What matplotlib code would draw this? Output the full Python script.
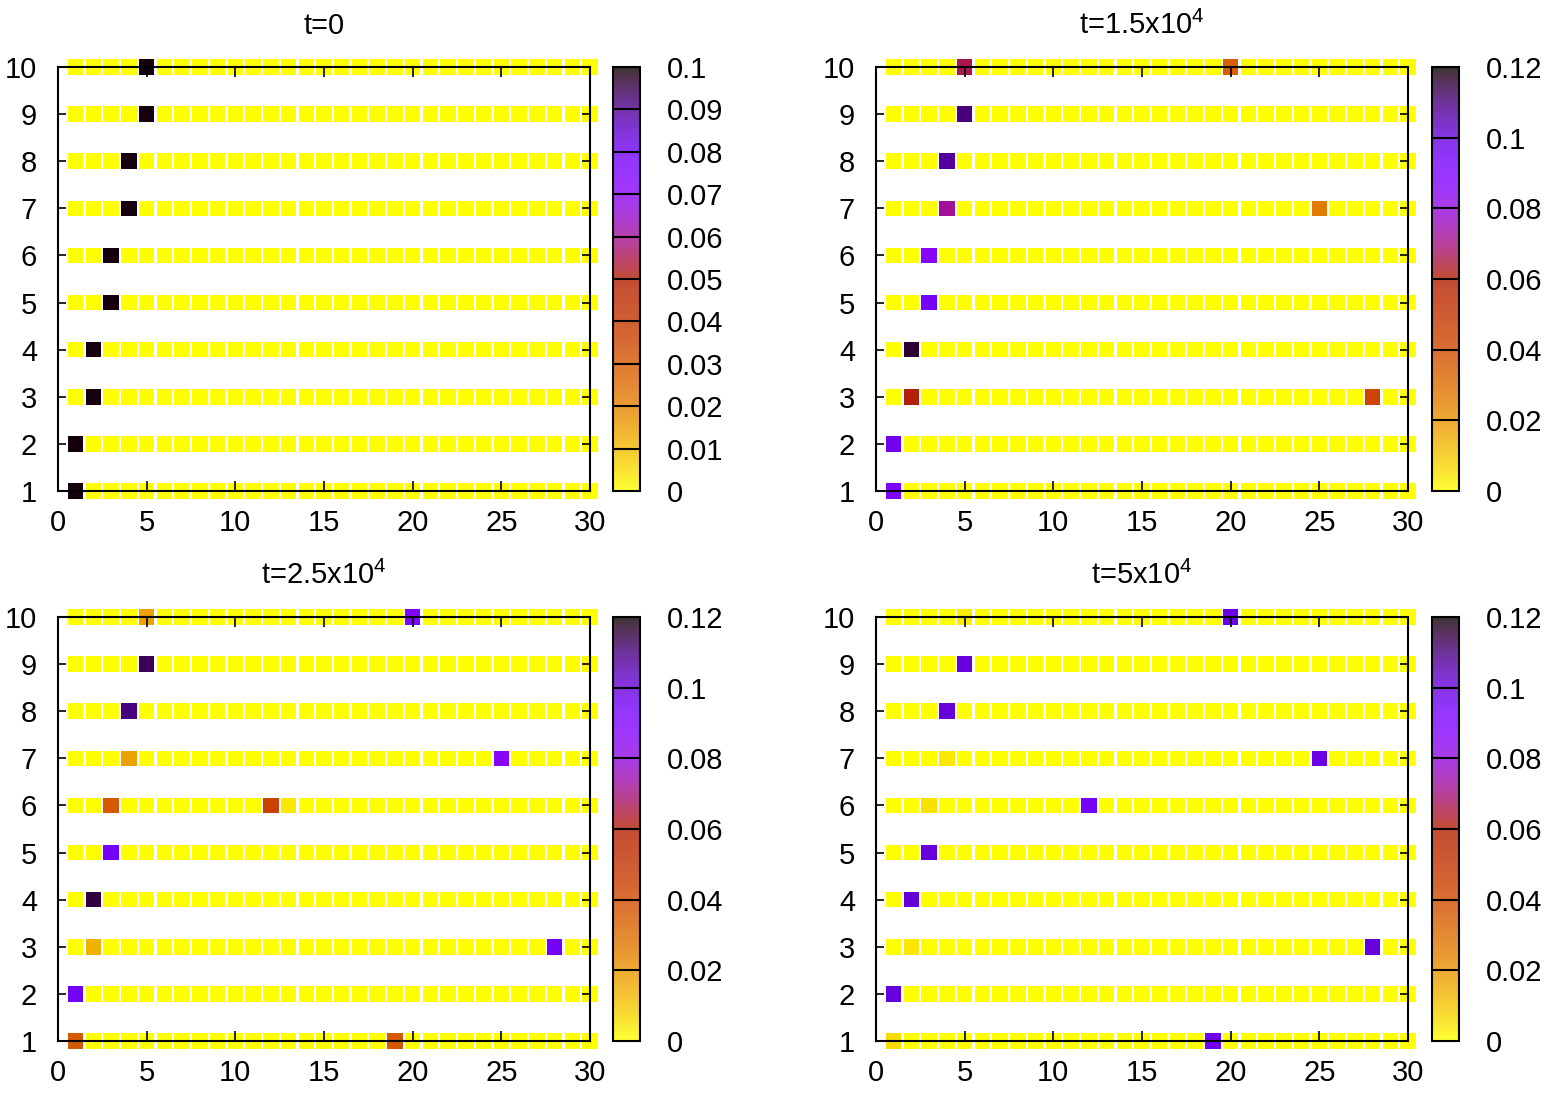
import numpy as np
import matplotlib
matplotlib.use("Agg")
import matplotlib.pyplot as plt
from matplotlib.colors import Normalize
from matplotlib.cm import ScalarMappable

plt.rcParams['font.family'] = ['Liberation Sans', 'DejaVu Sans']
plt.rcParams['mathtext.fontset'] = 'custom'
plt.rcParams['mathtext.rm'] = 'Liberation Sans'

# --- grid of sites ---
sites_x = list(range(1, 31))
sites_y = list(range(1, 11))

# --- non-zero sites per snapshot (x, y, value); all other sites are 0 ---
t0_x = [5, 5, 4, 4, 3, 3, 2, 2, 1, 1]
t0_y = [10, 9, 8, 7, 6, 5, 4, 3, 2, 1]
t0_v = [0.099, 0.099, 0.099, 0.099, 0.099, 0.099, 0.099, 0.099, 0.099, 0.099]

t1_x = [5, 20, 5, 4, 4, 25, 3, 3, 2, 2, 28, 1, 1]
t1_y = [10, 10, 9, 8, 7, 7, 6, 5, 4, 3, 3, 2, 1]
t1_v = [0.066, 0.034, 0.110, 0.107, 0.072, 0.026, 0.086, 0.094, 0.116, 0.060, 0.043, 0.097, 0.090]

t2_x = [5, 20, 5, 4, 4, 25, 3, 12, 13, 3, 2, 2, 28, 1, 1, 19]
t2_y = [10, 10, 9, 8, 7, 7, 6, 6, 6, 5, 4, 3, 3, 2, 1, 1]
t2_v = [0.017, 0.090, 0.113, 0.110, 0.017, 0.086, 0.036, 0.044, 0.004, 0.094,
        0.115, 0.014, 0.094, 0.096, 0.036, 0.036]

t3_x = [5, 20, 5, 4, 4, 25, 3, 12, 3, 2, 2, 28, 1, 1, 19]
t3_y = [10, 10, 9, 8, 7, 7, 6, 6, 5, 4, 3, 3, 2, 1, 1]
t3_v = [0.003, 0.098, 0.100, 0.100, 0.004, 0.098, 0.005, 0.094, 0.100, 0.101,
        0.004, 0.100, 0.100, 0.006, 0.097]

titles = ["t=0", r"t=1.5x10$^{\mathregular{4}}$",
          r"t=2.5x10$^{\mathregular{4}}$", r"t=5x10$^{\mathregular{4}}$"]
cb_max = [0.1, 0.12, 0.12, 0.12]
cb_ticks = [[0, 0.01, 0.02, 0.03, 0.04, 0.05, 0.06, 0.07, 0.08, 0.09, 0.1],
            [0, 0.02, 0.04, 0.06, 0.08, 0.1, 0.12],
            [0, 0.02, 0.04, 0.06, 0.08, 0.1, 0.12],
            [0, 0.02, 0.04, 0.06, 0.08, 0.1, 0.12]]
cb_labels = [["0", "0.01", "0.02", "0.03", "0.04", "0.05", "0.06", "0.07", "0.08", "0.09", "0.1"],
             ["0", "0.02", "0.04", "0.06", "0.08", "0.1", "0.12"],
             ["0", "0.02", "0.04", "0.06", "0.08", "0.1", "0.12"],
             ["0", "0.02", "0.04", "0.06", "0.08", "0.1", "0.12"]]
snapshots = [(t0_x, t0_y, t0_v), (t1_x, t1_y, t1_v), (t2_x, t2_y, t2_v), (t3_x, t3_y, t3_v)]

W, H = 1559, 1094
fig = plt.figure(figsize=(W / 100, H / 100), dpi=100)

def box(l, t, r, b):
    return [l / W, 1 - b / H, (r - l) / W, (b - t) / H]

# pixel boxes: (left, top, right, bottom) for plot and colorbar
ax_boxes = [(58, 67, 590, 491), (876, 67, 1408, 491),
            (58, 617, 590, 1041), (876, 617, 1408, 1041)]
cb_boxes = [(613, 67, 640, 491), (1432, 67, 1459, 491),
            (613, 617, 640, 1041), (1432, 617, 1459, 1041)]

cmap = plt.get_cmap('gnuplot_r')
gx, gy = np.meshgrid(sites_x, sites_y)
FS = 21

for k in range(4):
    sx, sy, sv = snapshots[k]
    grid = np.zeros((len(sites_y), len(sites_x)))
    for x, y, v in zip(sx, sy, sv):
        grid[y - 1, x - 1] = v

    ax = fig.add_axes(box(*ax_boxes[k]))
    norm = Normalize(0, cb_max[k])
    ax.scatter(gx.ravel(), gy.ravel(), c=grid.ravel(), cmap=cmap, norm=norm,
               marker='s', s=125, linewidths=0, clip_on=False, zorder=1)
    ax.set_xlim(0, 30)
    ax.set_ylim(1, 10)
    ax.set_xticks([0, 5, 10, 15, 20, 25, 30])
    ax.set_yticks(sites_y)
    ax.tick_params(direction='in', length=7, width=1.2, labelsize=FS,
                   top=True, right=True, pad=13)
    ax.tick_params(axis='y', right=True, length=6, pad=15)
    for sp in ax.spines.values():
        sp.set_linewidth(1.5)
        sp.set_zorder(3)
    ax.set_title(titles[k], fontsize=FS, pad=24)

    cax = fig.add_axes(box(*cb_boxes[k]))
    cb = fig.colorbar(ScalarMappable(norm=norm, cmap=cmap), cax=cax, alpha=0.8)
    cb.set_ticks(cb_ticks[k])
    cb.set_ticklabels(cb_labels[k])
    cax.tick_params(length=0, labelsize=FS, pad=19)
    cb.outline.set_linewidth(1.5)
    for t in cb_ticks[k][1:-1]:
        cax.axhline(t, color='black', lw=1.5)

fig.savefig('out.png', dpi=100)
